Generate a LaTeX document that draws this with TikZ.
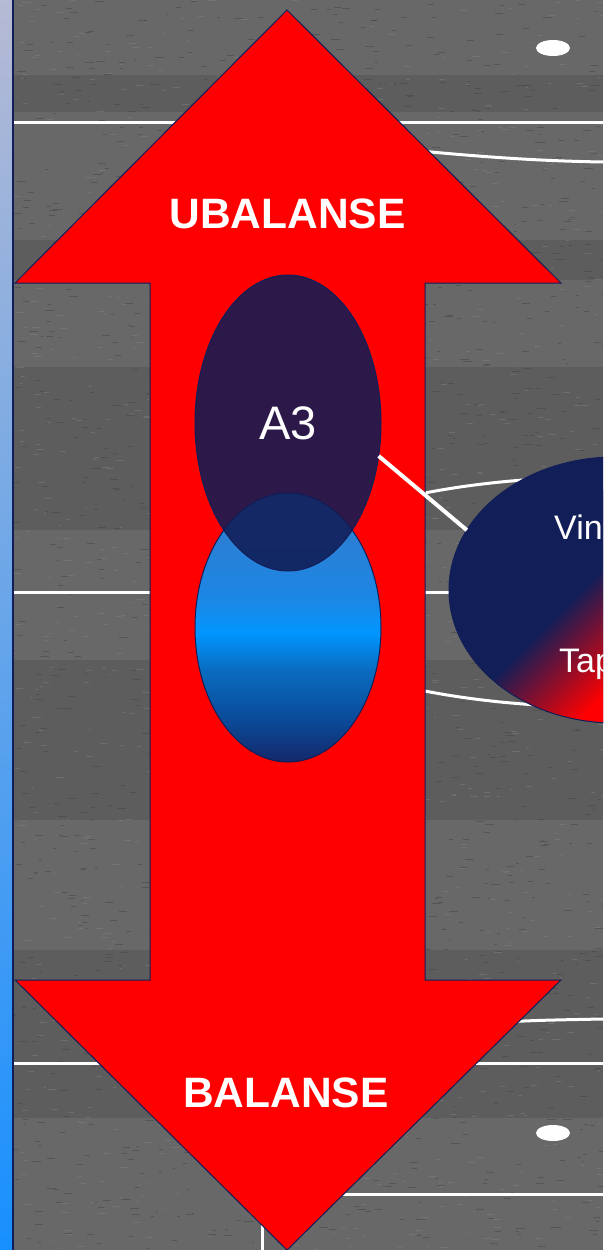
\documentclass[tikz,border=0pt]{standalone}
\usepackage{fontspec}
\setmainfont{Liberation Sans}
\usetikzlibrary{shapes.geometric}

\definecolor{navy}{RGB}{18,30,88}
\definecolor{navyfill}{RGB}{16,28,85}
\definecolor{bandlight}{RGB}{104,104,104}
\definecolor{banddark}{RGB}{93,93,93}
\definecolor{grainlo}{RGB}{68,68,68}
\definecolor{grainhi}{RGB}{132,132,132}
\definecolor{stripTop}{RGB}{182,186,212}
\definecolor{stripMid}{RGB}{122,158,228}
\definecolor{stripBot}{RGB}{24,144,255}
\definecolor{blueA}{RGB}{42,127,213}
\definecolor{blueB}{RGB}{26,136,230}
\definecolor{blueC}{RGB}{0,150,255}
\definecolor{blueD}{RGB}{10,108,192}
\definecolor{blueE}{RGB}{10,74,152}
\definecolor{blueF}{RGB}{21,40,106}

% blue body of the lower ellipse (0bp = bottom, 100bp = top)
\pgfdeclareverticalshading{lowerblue}{100bp}{color(0bp)=(blueF); color(25bp)=(blueF); color(32.8bp)=(blueE); color(42.1bp)=(blueD); color(49bp)=(blueC); color(54.6bp)=(blueB); color(66bp)=(blueA); color(100bp)=(blueA)}
% navy fading into red towards the lower right
\pgfdeclarehorizontalshading{navytored}{100bp}{color(0bp)=(navy); color(46.5bp)=(navy); color(61.8bp)=(red); color(100bp)=(red)}

\tikzset{
  courtline/.style={white, line width=3pt},
  grainD/.style={grainlo, line width=1pt, opacity=0.5},
  grainL/.style={grainhi, line width=1pt, opacity=0.45},
  arrowbody/.style={fill=red, draw=navy, line width=1pt, line join=miter},
  arrowlabel/.style={text=white, font=\fontsize{42.5}{50}\selectfont\bfseries, inner sep=0pt, anchor=base},
  bubble/.style={ellipse, inner sep=0pt, outer sep=0pt},
  link/.style={white, line width=4pt}
}

\begin{document}
\begin{tikzpicture}[x=1pt, y=-1pt]
\useasboundingbox (0,0) rectangle (603,1250);
\clip (0,0) rectangle (603,1250);

% floor: horizontal bands
\fill[bandlight] (13,0) rectangle (603,1250);
\foreach \ya/\yb in {75/112, 240/280, 367/530, 660/820, 950/1118}
  \fill[banddark] (13,\ya) rectangle (603,\yb);

% floor grain
\pgfmathsetseed{42}
\foreach \k in {1,...,1500}{
  \pgfmathsetmacro{\px}{13+rnd*590}
  \pgfmathsetmacro{\py}{rnd*1250}
  \pgfmathsetmacro{\pl}{2+rnd*7}
  \draw[grainD] (\px,\py) -- ++(\pl,0);
}
\foreach \k in {1,...,1100}{
  \pgfmathsetmacro{\px}{13+rnd*590}
  \pgfmathsetmacro{\py}{rnd*1250}
  \pgfmathsetmacro{\pl}{2+rnd*6}
  \draw[grainL] (\px,\py) -- ++(\pl,0);
}

% court markings
\draw[courtline] (13,122) -- (603,122);
\draw[courtline] (400,149) .. controls (480,157) and (540,161) .. (603,162);
\fill[white] (553,48) ellipse [x radius=17, y radius=8];
\draw[courtline] (13,592) -- (603,592);
\draw[courtline] (603,592) ellipse [x radius=350, y radius=115];
\draw[courtline] (440,1032) .. controls (500,1021) .. (603,1019);
\draw[courtline] (13,1063) -- (603,1063);
\fill[white] (553,1133) ellipse [x radius=17, y radius=8];
\draw[courtline] (262,1250) -- (262,1194) -- (603,1194);

% side strip
\shade[top color=stripTop, middle color=stripMid, bottom color=stripBot] (0,0) rectangle (13,1250);
\draw[navy, line width=1.5pt] (13,0) -- (13,1250);

% double-headed arrow
\draw[arrowbody] (287,10) -- (561,283) -- (425,283) -- (425,980) -- (561,980)
  -- (287,1250) -- (15,980) -- (150,980) -- (150,283) -- (15,283) -- cycle;
\node[arrowlabel] (ubal) at (287.5,228) {UBALANSE};
\node[arrowlabel] (bal) at (286,1107) {BALANSE};

% overlapping ellipses
\node[bubble, minimum width=186pt, minimum height=269pt, shading=lowerblue, draw=navy, line width=1pt] (low) at (288,627.5) {};
\node[bubble, minimum width=186pt, minimum height=296pt, fill=navyfill, fill opacity=0.88, text opacity=1, draw=navy, line width=1pt,
      text=white, font=\fontsize{47}{52}\selectfont] (a3) at (288,423) {A3};

% outcome ellipse
\node[bubble, minimum width=332pt, minimum height=266pt, fill=navy] (res) at (615,590) {};
\begin{scope}
  \clip (res.center) ellipse [x radius=166pt, y radius=133pt];
  \shade[shading=navytored, shading angle=-45] (410,490) rectangle (710,790);
\end{scope}
\draw[navy, line width=1pt] (res.center) ellipse [x radius=166pt, y radius=133pt];
\node[anchor=base west, inner sep=0pt, text=white, font=\fontsize{34}{40}\selectfont] (vin) at (554,539) {Vin};
\node[anchor=base west, inner sep=0pt, text=white, font=\fontsize{34}{40}\selectfont] (tap) at (559,672) {Tap};

% connector
\draw[link] (a3.-20.5) -- (res.158.2);
\end{tikzpicture}
\end{document}
